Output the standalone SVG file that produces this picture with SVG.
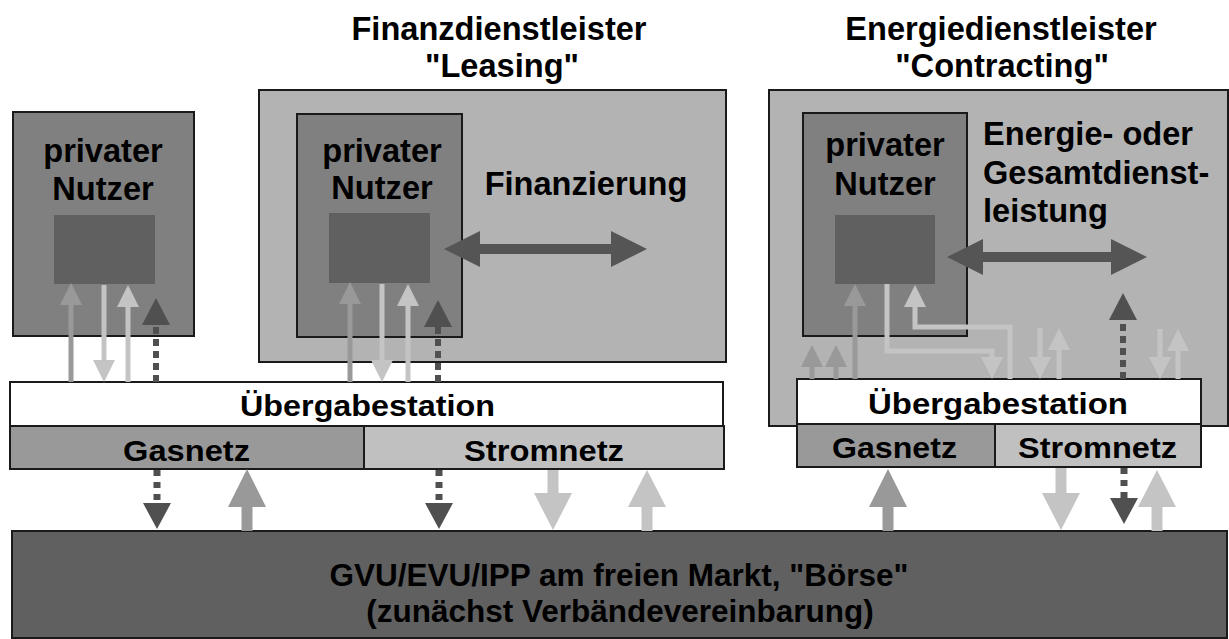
<svg xmlns="http://www.w3.org/2000/svg" width="1229" height="639" viewBox="0 0 1229 639">
<style>
text{font-family:"Liberation Sans",Arial,sans-serif;font-weight:bold;fill:#000}
.t{font-size:32.6px}
.net{font-size:30px}
.box{stroke:#1a1a1a;stroke-width:2}
.outer{fill:#b3b3b3}
.user{fill:#808080}
.sq{fill:#606060}
.ueb{fill:#fff}
.gas{fill:#999}
.strom{fill:#c0c0c0}
.market{fill:#606060}
.m{stroke:#999;fill:none}
.l{stroke:#c4c4c4;fill:none}
.d{stroke:#505050;fill:none}
.s5{stroke-width:5}
.s11{stroke-width:11}
.dot{stroke-width:6;stroke-dasharray:7 5}
.dotL{stroke-width:7;stroke-dasharray:6 6}
.dbl{stroke:#555;stroke-width:10;fill:none}
</style>
<defs>
<marker id="mS" markerUnits="userSpaceOnUse" markerWidth="22" markerHeight="22" refX="0" refY="11" orient="auto"><path d="M0,0L22,11L0,22z" fill="#999"/></marker>
<marker id="lS" markerUnits="userSpaceOnUse" markerWidth="22" markerHeight="22" refX="0" refY="11" orient="auto"><path d="M0,0L22,11L0,22z" fill="#c4c4c4"/></marker>
<marker id="dS" markerUnits="userSpaceOnUse" markerWidth="27" markerHeight="28" refX="0" refY="14" orient="auto"><path d="M0,0L27,14L0,28z" fill="#505050"/></marker>
<marker id="mL" markerUnits="userSpaceOnUse" markerWidth="38" markerHeight="38" refX="0" refY="19" orient="auto"><path d="M0,0L38,19L0,38z" fill="#999"/></marker>
<marker id="lL" markerUnits="userSpaceOnUse" markerWidth="37" markerHeight="38" refX="0" refY="19" orient="auto"><path d="M0,0L37,19L0,38z" fill="#c4c4c4"/></marker>
<marker id="dL" markerUnits="userSpaceOnUse" markerWidth="26" markerHeight="28" refX="0" refY="14" orient="auto"><path d="M0,0L26,14L0,28z" fill="#505050"/></marker>
<marker id="dbl" markerUnits="userSpaceOnUse" markerWidth="36" markerHeight="36" refX="0" refY="18" orient="auto-start-reverse"><path d="M0,0L36,18L0,36z" fill="#555"/></marker>
</defs>
<rect width="1229" height="639" fill="#fff"/>

<g id="title-leasing">
<text class="t" x="499" y="40" text-anchor="middle">Finanzdienstleister</text>
<text class="t" x="502" y="77" text-anchor="middle">"Leasing"</text>
</g>
<g id="title-contracting">
<text class="t" x="1001" y="40" text-anchor="middle">Energiedienstleister</text>
<text class="t" x="1002" y="77" text-anchor="middle">"Contracting"</text>
</g>

<g id="leasing-provider">
<rect class="box outer" x="259" y="90" width="467" height="272"/>
<text class="t" x="586" y="195" text-anchor="middle">Finanzierung</text>
</g>
<g id="contracting-provider">
<rect class="box outer" x="769" y="90" width="459" height="336"/>
<text class="t" x="983" y="145">Energie- oder</text>
<text class="t" x="983" y="184">Gesamtdienst-</text>
<text class="t" x="983" y="222">leistung</text>
</g>

<g id="user-left">
<rect class="box user" x="13" y="112" width="181" height="224"/>
<text class="t" x="103" y="162" text-anchor="middle">privater</text>
<text class="t" x="103" y="200" text-anchor="middle">Nutzer</text>
<rect class="sq" x="54" y="215" width="101" height="69"/>
</g>
<g id="user-leasing">
<rect class="box user" x="297" y="114" width="165" height="223"/>
<text class="t" x="382" y="162" text-anchor="middle">privater</text>
<text class="t" x="382" y="199" text-anchor="middle">Nutzer</text>
<rect class="sq" x="329" y="213" width="101" height="70"/>
</g>
<g id="user-contracting">
<rect class="box user" x="803" y="113" width="164" height="223"/>
<text class="t" x="885" y="156" text-anchor="middle">privater</text>
<text class="t" x="885" y="195" text-anchor="middle">Nutzer</text>
<rect class="sq" x="835" y="215" width="100" height="69"/>
</g>

<g id="station-left">
<rect class="box ueb" x="10" y="382" width="713" height="44"/>
<text class="net" x="240" y="416" textLength="255" lengthAdjust="spacingAndGlyphs">Übergabestation</text>
</g>
<g id="gasnetz-left">
<rect class="box gas" x="10" y="426" width="354" height="43"/>
<text class="net" x="123" y="461" textLength="127" lengthAdjust="spacingAndGlyphs">Gasnetz</text>
</g>
<g id="stromnetz-left">
<rect class="box strom" x="364" y="426" width="360" height="43"/>
<text class="net" x="464" y="461" textLength="160" lengthAdjust="spacingAndGlyphs">Stromnetz</text>
</g>

<g id="station-right">
<rect class="box ueb" x="797" y="379" width="404" height="45"/>
<text class="net" x="868" y="414" textLength="260" lengthAdjust="spacingAndGlyphs">Übergabestation</text>
</g>
<g id="gasnetz-right">
<rect class="box gas" x="797" y="424" width="198" height="43"/>
<text class="net" x="832" y="458" textLength="125" lengthAdjust="spacingAndGlyphs">Gasnetz</text>
</g>
<g id="stromnetz-right">
<rect class="box strom" x="995" y="424" width="206" height="43"/>
<text class="net" x="1018" y="458" textLength="159" lengthAdjust="spacingAndGlyphs">Stromnetz</text>
</g>

<g id="market">
<rect class="box market" x="12" y="531" width="1215" height="107"/>
<text class="t" x="619" y="586" text-anchor="middle" style="font-size:31.5px">GVU/EVU/IPP am freien Markt, "Börse"</text>
<text class="t" x="620" y="622" text-anchor="middle" style="font-size:31.5px">(zunächst Verbändevereinbarung)</text>
</g>

<g id="connectors">
<!-- double arrows -->
<line class="dbl" x1="480" y1="249" x2="611" y2="249" marker-start="url(#dbl)" marker-end="url(#dbl)"/>
<line class="dbl" x1="983" y1="257" x2="1111" y2="257" marker-start="url(#dbl)" marker-end="url(#dbl)"/>
<!-- left user -->
<line class="m s5" x1="71" y1="382" x2="71" y2="305" marker-end="url(#mS)"/>
<line class="l s5" x1="104" y1="285" x2="104" y2="360" marker-end="url(#lS)"/>
<line class="l s5" x1="128" y1="382" x2="128" y2="307" marker-end="url(#lS)"/>
<line class="d dot" x1="156" y1="382" x2="156" y2="325" marker-end="url(#dS)"/>
<!-- leasing user -->
<line class="m s5" x1="350" y1="382" x2="350" y2="304" marker-end="url(#mS)"/>
<line class="l s5" x1="382" y1="284" x2="382" y2="360" marker-end="url(#lS)"/>
<line class="l s5" x1="408" y1="382" x2="408" y2="306" marker-end="url(#lS)"/>
<line class="d dot" x1="438" y1="382" x2="438" y2="327" marker-end="url(#dS)"/>
<!-- contracting -->
<line class="m s5" x1="812" y1="379" x2="812" y2="367" marker-end="url(#mS)"/>
<line class="m s5" x1="836" y1="379" x2="836" y2="367" marker-end="url(#mS)"/>
<line class="m s5" x1="855" y1="379" x2="855" y2="306" marker-end="url(#mS)"/>
<polyline class="l s5" points="887,284 887,351 992,351 992,357" marker-end="url(#lS)"/>
<polyline class="l s5" points="1010,379 1010,327 915,327 915,307" marker-end="url(#lS)"/>
<line class="l s5" x1="1040" y1="328" x2="1040" y2="357" marker-end="url(#lS)"/>
<line class="l s5" x1="1059" y1="379" x2="1059" y2="350" marker-end="url(#lS)"/>
<line class="d dot" x1="1123" y1="379" x2="1123" y2="320" marker-end="url(#dS)"/>
<line class="l s5" x1="1160" y1="329" x2="1160" y2="357" marker-end="url(#lS)"/>
<line class="l s5" x1="1178" y1="379" x2="1178" y2="351" marker-end="url(#lS)"/>
<!-- to market -->
<line class="d dotL" x1="157" y1="470" x2="157" y2="503" marker-end="url(#dL)"/>
<line class="m s11" x1="247" y1="531" x2="247" y2="507" marker-end="url(#mL)"/>
<line class="d dotL" x1="439" y1="470" x2="439" y2="503" marker-end="url(#dL)"/>
<line class="l s11" x1="553" y1="470" x2="553" y2="493" marker-end="url(#lL)"/>
<line class="l s11" x1="647" y1="531" x2="647" y2="507" marker-end="url(#lL)"/>
<line class="m s11" x1="888" y1="531" x2="888" y2="507" marker-end="url(#mL)"/>
<line class="l s11" x1="1061" y1="468" x2="1061" y2="493" marker-end="url(#lL)"/>
<line class="d dotL" x1="1124" y1="468" x2="1124" y2="498" marker-end="url(#dL)"/>
<line class="l s11" x1="1157" y1="531" x2="1157" y2="507" marker-end="url(#lL)"/>
</g>
</svg>
